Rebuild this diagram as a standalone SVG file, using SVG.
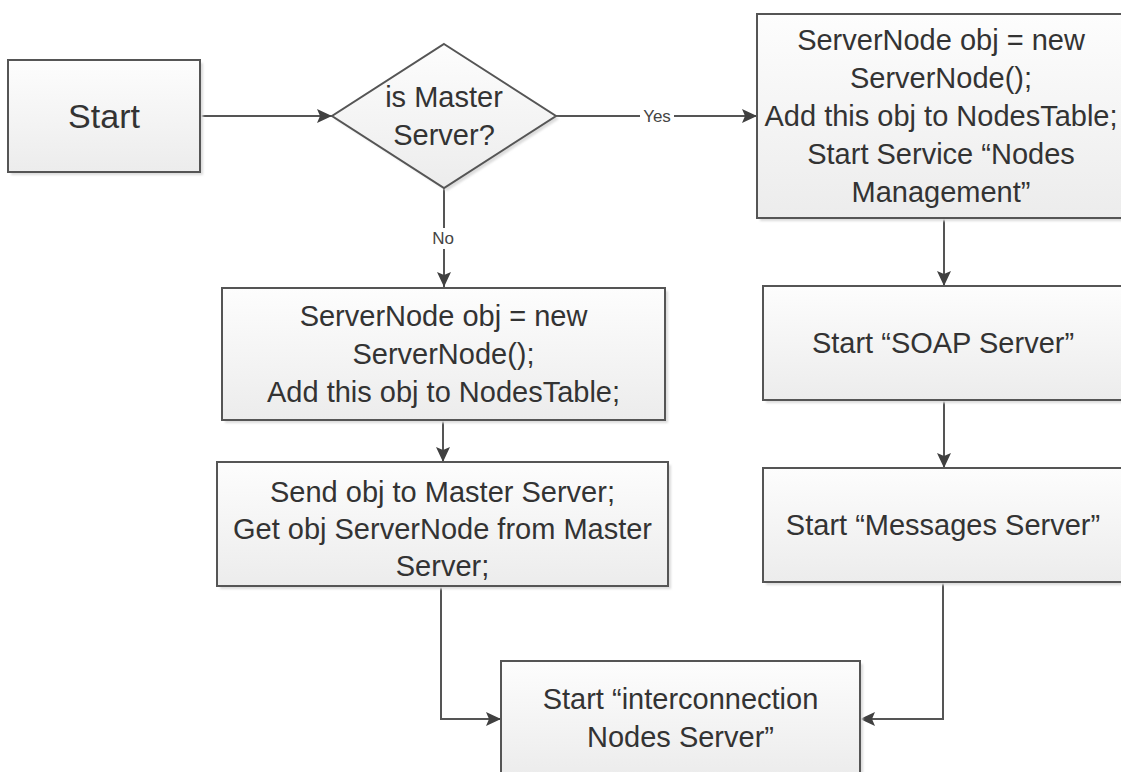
<svg xmlns="http://www.w3.org/2000/svg" width="1121" height="772" viewBox="0 0 1121 772">
  <style>
    .box { fill: url(#boxFill); stroke: #555555; stroke-width: 2; }
    .shadow { fill: #dcdcdc; }
    .txt { font-family: "Liberation Sans", Arial, sans-serif; font-size: 29px; fill: #333333; text-anchor: middle; }
    .big { font-size: 34px; }
    .lbl { font-family: "Liberation Sans", Arial, sans-serif; font-size: 17px; fill: #444444; text-anchor: middle; }
    .wire { fill: none; stroke: #555555; stroke-width: 2; marker-end: url(#arrow); }
  </style>
  <defs>
    <linearGradient id="boxFill" x1="0" y1="0" x2="0" y2="1">
      <stop offset="0" stop-color="#fdfdfd"/>
      <stop offset="1" stop-color="#ececec"/>
    </linearGradient>
    <filter id="soft" x="-5%" y="-5%" width="110%" height="110%">
      <feGaussianBlur stdDeviation="1.2"/>
    </filter>
    <marker id="arrow" markerUnits="userSpaceOnUse" markerWidth="16" markerHeight="14" refX="15" refY="7" orient="auto">
      <path d="M0,0 L15,7 L0,14 L3,7 z" fill="#404040"/>
    </marker>
  </defs>

  <rect width="1121" height="772" fill="#ffffff"/>

  <!-- connectors -->
  <g id="connectors">
    <path class="wire" d="M200,116 H332"/>
    <path class="wire" d="M556,116 H757"/>
    <path class="wire" d="M444,188 V287"/>
    <path class="wire" d="M443,420 V462"/>
    <path class="wire" d="M944,218 V286"/>
    <path class="wire" d="M944,400 V468"/>
    <path class="wire" d="M441,586 V719 H501"/>
    <path class="wire" d="M943,582 V719 H860"/>
    <g id="label-yes">
      <rect x="640" y="106" width="34" height="20" fill="#ffffff"/>
      <text class="lbl" x="657" y="122">Yes</text>
    </g>
    <g id="label-no">
      <rect x="430" y="228" width="27" height="21" fill="#ffffff"/>
      <text class="lbl" x="443" y="244">No</text>
    </g>
  </g>

  <!-- start -->
  <g id="node-start">
    <rect class="shadow" x="11" y="63" width="192" height="112" filter="url(#soft)"/>
    <rect class="box" x="8" y="60" width="192" height="112"/>
    <text class="txt big" x="104" y="128">Start</text>
  </g>

  <!-- decision -->
  <g id="node-decision">
    <polygon class="shadow" points="447,47 559,119 447,191 335,119" filter="url(#soft)"/>
    <polygon class="box" points="444,44 556,116 444,188 332,116"/>
    <text class="txt" x="444" y="107">is Master</text>
    <text class="txt" x="444" y="145">Server?</text>
  </g>

  <!-- master branch -->
  <g id="node-master-init">
    <rect class="shadow" x="760" y="17" width="368" height="204" filter="url(#soft)"/>
    <rect class="box" x="757" y="14" width="368" height="204"/>
    <text class="txt" x="941" y="50">ServerNode obj = new</text>
    <text class="txt" x="941" y="88">ServerNode();</text>
    <text class="txt" x="941" y="126">Add this obj to NodesTable;</text>
    <text class="txt" x="941" y="164">Start Service “Nodes</text>
    <text class="txt" x="941" y="202">Management”</text>
  </g>

  <g id="node-soap">
    <rect class="shadow" x="766" y="289" width="360" height="114" filter="url(#soft)"/>
    <rect class="box" x="763" y="286" width="360" height="114"/>
    <text class="txt" x="943" y="353">Start “SOAP Server”</text>
  </g>

  <g id="node-messages">
    <rect class="shadow" x="766" y="471" width="360" height="114" filter="url(#soft)"/>
    <rect class="box" x="763" y="468" width="360" height="114"/>
    <text class="txt" x="943" y="535">Start “Messages Server”</text>
  </g>

  <!-- slave branch -->
  <g id="node-slave-init">
    <rect class="shadow" x="225" y="291" width="443" height="132" filter="url(#soft)"/>
    <rect class="box" x="222" y="288" width="443" height="132"/>
    <text class="txt" x="443.5" y="326">ServerNode obj = new</text>
    <text class="txt" x="443.5" y="364">ServerNode();</text>
    <text class="txt" x="443.5" y="402">Add this obj to NodesTable;</text>
  </g>

  <g id="node-register">
    <rect class="shadow" x="220" y="465" width="451" height="124" filter="url(#soft)"/>
    <rect class="box" x="217" y="462" width="451" height="124"/>
    <text class="txt" x="442.5" y="502">Send obj to Master Server;</text>
    <text class="txt" x="442.5" y="539">Get obj ServerNode from Master</text>
    <text class="txt" x="442.5" y="576">Server;</text>
  </g>

  <!-- join -->
  <g id="node-interconnect">
    <rect class="shadow" x="504" y="664" width="359" height="114" filter="url(#soft)"/>
    <rect class="box" x="501" y="661" width="359" height="114"/>
    <text class="txt" x="680.5" y="709">Start “interconnection</text>
    <text class="txt" x="680.5" y="747">Nodes Server”</text>
  </g>
</svg>
